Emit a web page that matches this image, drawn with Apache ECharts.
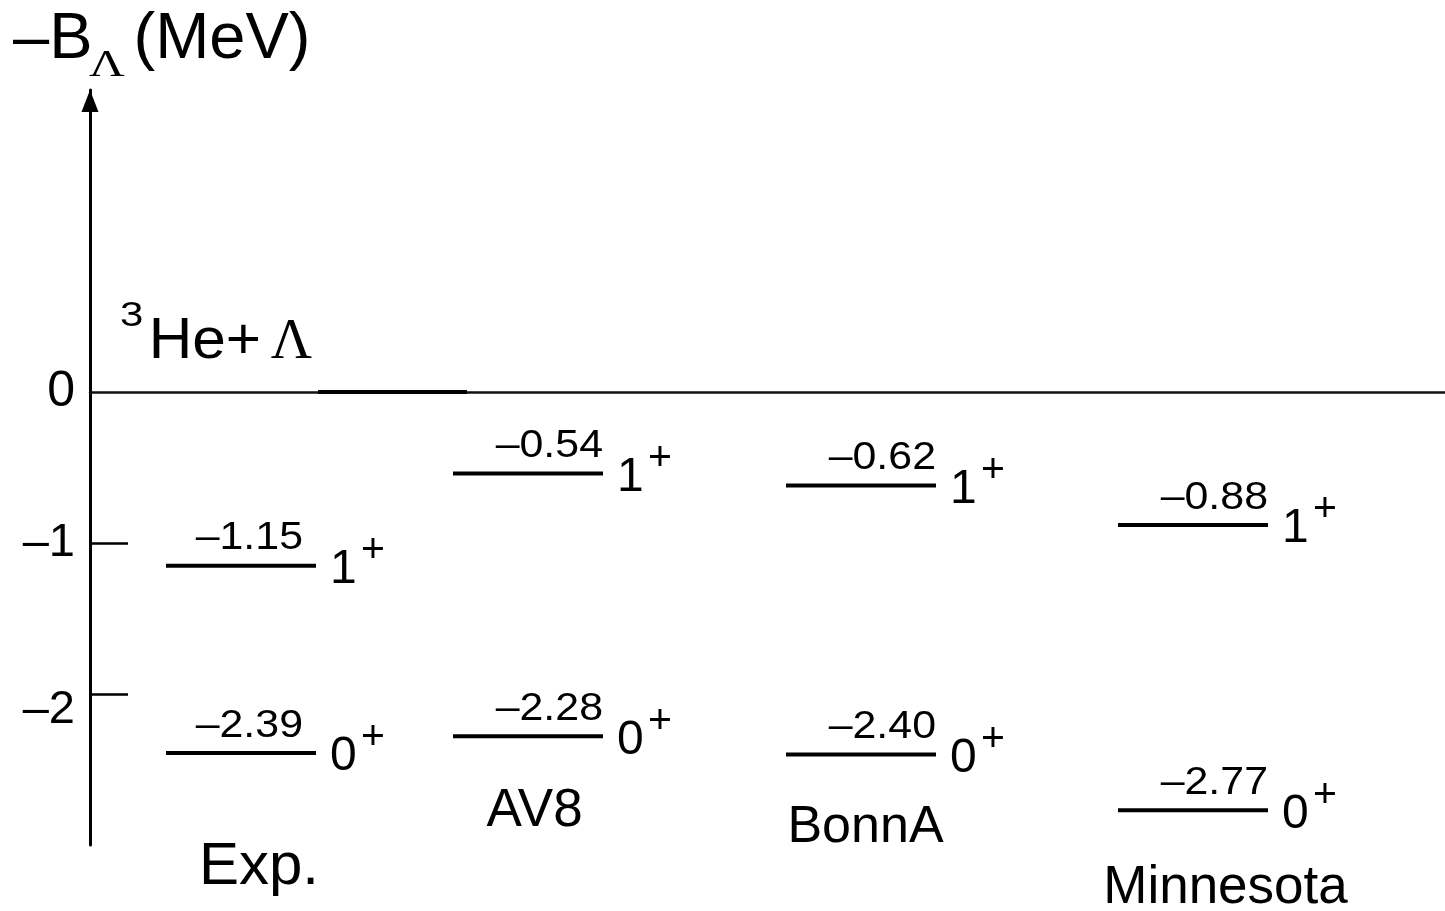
<!DOCTYPE html>
<html><head><meta charset="utf-8">
<script src="https://cdn.jsdelivr.net/npm/echarts@6/dist/echarts.min.js"></script>
<style>html,body{margin:0;padding:0;background:#fff}#c{width:1445px;height:911px}</style>
</head><body><div id="c"></div><script>
// ---------------- data ----------------
const models = ['Exp.', 'AV8', 'BonnA', 'Minnesota'];
const level1Plus = [-1.15, -0.54, -0.62, -0.88];
const level0Plus = [-2.39, -2.28, -2.40, -2.77];
const spinLabels = ['1', '0'];
const parityLabel = '+';
const thresholdEnergy = 0;
const thresholdParts = ['3', 'He+', 'Λ'];
const yTickValues = [-2, -1, 0];
const yTickLabels = ['–2', '–1', '0'];
const yTickMarks = [-2, -1];
const axisTitleParts = ['–B', 'Λ', '(MeV)'];

// ---------------- layout ----------------
const SANS = '"Liberation Sans", Arial, Helvetica, sans-serif';
const SERIF = '"Liberation Serif", "Times New Roman", serif';
const colStart = [0.76, 3.63, 6.96, 10.28];
const levelWidth = 1.5;
const thrStart = 2.28, thrWidth = 1.49;
const valueDx = [-13, 0, 0, 0];
const nameDx = [18, 6.5, 4.5, 32.5];
const nameDy = [115, 75, 73, 78];
const nameSize = [60, 53, 52, 53];

const fmt = v => (v < 0 ? '–' : '') + Math.abs(v).toFixed(2);

function T(x, y, text, size, align, family, scaleX) {
  return {
    type: 'text', x: x, y: y, scaleX: scaleX || 1,
    style: {
      text: text, fill: '#000',
      font: size + 'px ' + (family || SANS),
      align: align, textAlign: align,
      verticalAlign: 'middle', textVerticalAlign: 'middle'
    }
  };
}

const levelData = [];
models.forEach((m, i) => {
  levelData.push([i, level1Plus[i], 0]);
  levelData.push([i, level0Plus[i], 1]);
});

const chart = echarts.init(document.getElementById('c'), null, {renderer: 'canvas'});
chart.setOption({
  animation: false,
  backgroundColor: '#fff',
  grid: {left: 90, right: 0, top: 90, bottom: 66, containLabel: false, outerBoundsMode: 'none'},
  xAxis: {
    type: 'value', min: 0, max: 13.55,
    axisLine: {show: true, onZero: true, lineStyle: {color: '#111', width: 2.5}},
    axisTick: {show: false}, axisLabel: {show: false}, splitLine: {show: false}
  },
  yAxis: {
    type: 'value', min: -3, max: 2, interval: 1,
    axisLine: {show: true, onZero: false, symbol: ['none', 'triangle'], symbolSize: [17, 22], symbolOffset: [0, -11],
      lineStyle: {color: '#000', width: 3}},
    axisTick: {show: true, inside: true, length: 38, customValues: yTickMarks, lineStyle: {color: '#000', width: 2.5}},
    axisLabel: {
      show: true, margin: 15, customValues: yTickValues,
      formatter: function (v) {
        const k = yTickValues.indexOf(v);
        if (k < 0) return '';
        if (v === 0) return '{z|' + yTickLabels[k] + '}';
        if (v === -2) return '{d|' + yTickLabels[k] + '}';
        return '{n|' + yTickLabels[k] + '}';
      },
      rich: {
        z: {fontSize: 50, fontFamily: SANS, color: '#000'},
        n: {fontSize: 47, fontFamily: SANS, color: '#000'},
        d: {fontSize: 47, fontFamily: SANS, color: '#000', padding: [32, 0, 0, 0]}
      }
    },
    splitLine: {show: false}
  },
  graphic: [
    T(13, 40, axisTitleParts[0], 65, 'left'),
    T(89, 66, axisTitleParts[1], 38, 'left', SERIF, 1.3),
    T(133.5, 40, axisTitleParts[2], 65, 'left')
  ],
  series: [
    {
      type: 'custom', coordinateSystem: 'cartesian2d', silent: true,
      data: [[thrStart, thresholdEnergy]],
      renderItem: function (params, api) {
        const v = api.value(1);
        const a = api.coord([thrStart, v]);
        const b = api.coord([thrStart + thrWidth, v]);
        return {type: 'group', children: [
          {type: 'line', shape: {x1: a[0], y1: a[1], x2: b[0], y2: b[1]}, style: {stroke: '#000', lineWidth: 4}},
          T(a[0] - 6, a[1] - 49, thresholdParts[2], 57, 'right', SERIF),
          T(a[0] - 57, a[1] - 50, thresholdParts[1], 58, 'right', SANS, 1.04),
          T(a[0] - 198, a[1] - 76, thresholdParts[0], 35, 'left', SANS, 1.2)
        ]};
      }
    },
    {
      type: 'custom', coordinateSystem: 'cartesian2d', silent: true,
      data: levelData,
      renderItem: function (params, api) {
        const i = api.value(0), v = api.value(1), s = api.value(2);
        const a = api.coord([colStart[i], v]);
        const b = api.coord([colStart[i] + levelWidth, v]);
        const children = [
          {type: 'line', shape: {x1: a[0], y1: a[1], x2: b[0], y2: b[1]}, style: {stroke: '#000', lineWidth: 4}},
          T(b[0] + valueDx[i], b[1] - 27, fmt(v), 39, 'right', SANS, 1.1),
          T(b[0] + 14, b[1] + 4, spinLabels[s], 48, 'left'),
          T(b[0] + 45, b[1] - 15, parityLabel, 41, 'left')
        ];
        if (s === 1) {
          children.push(T((a[0] + b[0]) / 2 + nameDx[i], b[1] + nameDy[i], models[i], nameSize[i], 'center'));
        }
        return {type: 'group', children: children};
      }
    }
  ]
});
</script></body></html>
